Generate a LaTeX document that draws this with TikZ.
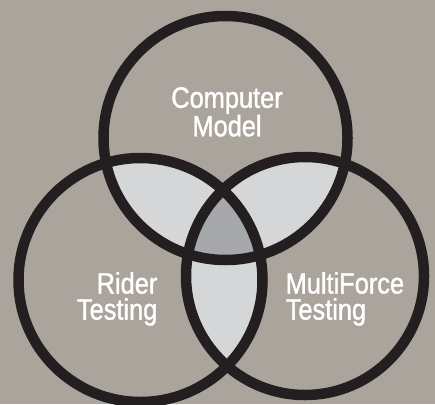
\documentclass[tikz,border=0pt]{standalone}
\usepackage{fontspec}
\newfontfamily\condfont[FakeStretch=0.86,FakeBold=1.2]{Liberation Sans}
\definecolor{bgc}{HTML}{ABA49C}
\definecolor{lensc}{HTML}{D5D6D8}
\definecolor{corec}{HTML}{A7A8AC}
\definecolor{ringc}{HTML}{231F20}
\tikzset{
  ring/.style={draw=ringc, line width=10.5pt},
  lbl/.style={text=white, inner sep=0pt, font=\condfont\fontsize{29.5}{26}\selectfont}
}
\begin{document}
\begin{tikzpicture}[x=1pt,y=-1pt]
\fill[bgc] (0,0) rectangle (435,404);
\useasboundingbox (0,0) rectangle (435,404);
\coordinate (ct) at (225.5,138);
\coordinate (cl) at (140.5,280);
\coordinate (cr) at (305,276);
\def\rt{122pt}\def\rl{122pt}\def\rr{119pt}
% pairwise overlaps
\begin{scope}
  \clip (ct) circle[radius=\rt];
  \fill[lensc] (cl) circle[radius=\rl];
  \fill[lensc] (cr) circle[radius=\rr];
\end{scope}
\begin{scope}
  \clip (cl) circle[radius=\rl];
  \fill[lensc] (cr) circle[radius=\rr];
\end{scope}
% triple overlap
\begin{scope}
  \clip (ct) circle[radius=\rt];
  \clip (cl) circle[radius=\rl];
  \fill[corec] (cr) circle[radius=\rr];
\end{scope}
% rings
\draw[ring] (ct) circle[radius=\rt];
\draw[ring] (cl) circle[radius=\rl];
\draw[ring] (cr) circle[radius=\rr];
% labels
\node[lbl, align=center, anchor=north] (comp) at (227,87) {Computer\\Model};
\node[lbl, align=right, anchor=north east] (rider) at (157.5,272) {Rider\\Testing};
\node[lbl, align=left, anchor=north west] (multi) at (285.5,272) {MultiForce\\Testing};
\end{tikzpicture}
\end{document}
